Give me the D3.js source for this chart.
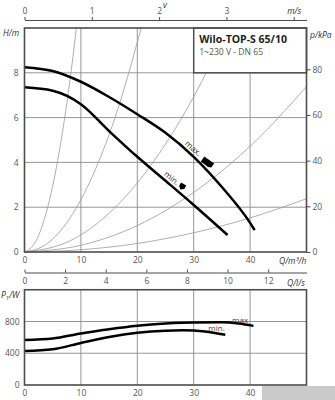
<!DOCTYPE html>
<html><head><meta charset="utf-8">
<script src="https://cdn.jsdelivr.net/npm/d3@7"></script>
<style>
html,body{margin:0;padding:0;background:#fff;}
svg{display:block;font-family:"Open Sans",sans-serif;}
</style></head><body>
<svg id="c" width="335" height="400"></svg>
<script>
// ---- tick values ----
const qTicks = [0,10,20,30,40];
const hTicks = [0,2,4,6,8];
const kpaTicks = [0,20,40,60,80];
const vTicks = [0,1,2,3,4];
const lsTicks = [0,2,4,6,8,10,12];
const pTicks = [0,400,800];
const gridQ = [10,20,30,40];
const gridH = [2,4,6,8];
const gridP = [400,800];

// ---- pump curves H(Q) ----
const maxQ = [0,5,10,15,20,25,30,35,40,40.8];
const maxH = [8.25,8.08,7.6,6.92,6.15,5.32,4.25,2.9,1.3,0.98];
const minQ = [0,5,10,15,20,25,30,36];
const minH = [7.35,7.2,6.6,5.4,4.25,3.18,2.1,0.76];

// ---- system curves (thin gray) ----
const sysAQ = [0,2,4,6,8,9.2];     const sysAH = [0,0.47,1.89,4.25,7.55,10];
const sysBQ = [0,4,8,12,16,20.7];  const sysBH = [0,0.37,1.49,3.36,5.96,10];
const sysCQ = [0,8,16,24,30,36];   const sysCH = [0,0.49,1.97,4.44,6.93,10];
const sysDQ = [0,10,20,30,40,50];  const sysDH = [0,0.3,1.18,2.66,4.72,7.38];
const sysEQ = [0,10,20,30,40,50];  const sysEH = [0,0.1,0.38,0.86,1.52,2.38];

// ---- power curves P1(Q) ----
const pMaxQ = [0,5,10,15,20,25,30,35,38,40.6];
const pMaxP = [567,585,650,703,747,775,788,789,775,745];
const pMinQ = [0,5,10,15,20,25,28,32,35.6];
const pMinP = [428,450,530,605,658,685,690,675,632];

// ---- annotation anchors (data units) ----
const maxLabelAt = [29.9,4.63];
const minLabelAt = [26.1,3.29];
const maxMarkAt = [32.45,4.0];
const minMarkAt = [27.96,2.92];
const pMaxLabelAt = [36.8,787];
const pMinLabelAt = [32.6,675];

const svg = d3.select('#c');
const FRAME = '#4d4d4d', GRID = '#8a8a8a', TXT = '#555', TTL = '#333';

const x = d3.scaleLinear().domain([0,50]).range([24.5,306.5]);
const yH = d3.scaleLinear().domain([0,10]).range([252,28]);
const yK = d3.scaleLinear().domain([0,10/0.10197]).range([252,28]);
const xV = d3.scaleLinear().domain([0,4.19]).range([24.5,306.5]);
const xL = d3.scaleLinear().domain([0,50/3.6]).range([24.5,306.5]);
const yP = d3.scaleLinear().domain([0,1200]).range([385,289.75]);

function styleAxis(g, keepDomain){
  g.attr('font-family','"Open Sans",sans-serif').attr('font-size',8.5);
  g.selectAll('text').attr('fill',TXT);
  g.selectAll('line').attr('stroke',FRAME).attr('stroke-width',1);
  if(!keepDomain) g.select('.domain').remove();
  else g.select('.domain').attr('stroke',FRAME).attr('stroke-width',1.2);
}

// ===== TOP CHART =====
const topG = svg.append('g');
topG.selectAll('.gv').data(gridQ).join('line')
  .attr('x1',d=>x(d)).attr('x2',d=>x(d)).attr('y1',yH(0)).attr('y2',yH(10))
  .attr('stroke',GRID).attr('stroke-width',0.9);
topG.selectAll('.gh').data(gridH).join('line')
  .attr('x1',x(0)).attr('x2',x(50)).attr('y1',d=>yH(d)).attr('y2',d=>yH(d))
  .attr('stroke',GRID).attr('stroke-width',0.9);

const lineH = d3.line().x(d=>x(d[0])).y(d=>yH(d[1])).curve(d3.curveMonotoneX);
const sys = [[sysAQ,sysAH],[sysBQ,sysBH],[sysCQ,sysCH],[sysDQ,sysDH],[sysEQ,sysEH]];
topG.selectAll('.sys').data(sys).join('path')
  .attr('d',d=>lineH(d3.zip(d[0],d[1])))
  .attr('fill','none').attr('stroke','#9a9a9a').attr('stroke-width',0.8);

topG.append('path').attr('d',lineH(d3.zip(maxQ,maxH)))
  .attr('fill','none').attr('stroke','#000').attr('stroke-width',2.5);
topG.append('path').attr('d',lineH(d3.zip(minQ,minH)))
  .attr('fill','none').attr('stroke','#000').attr('stroke-width',2.5);

// title box (Q 30..50, H 8..10)
topG.append('rect').attr('x',x(30)).attr('y',yH(10)).attr('width',x(50)-x(30)).attr('height',yH(8)-yH(10))
  .attr('fill','#fff').attr('stroke',FRAME).attr('stroke-width',1.5);
topG.append('text').attr('x',x(30)+5.5).attr('y',43).attr('font-size',10.5).attr('font-weight','bold')
  .attr('fill','#222').text('Wilo-TOP-S 65/10');
topG.append('text').attr('x',x(30)+5.5).attr('y',54.5).attr('font-size',8.6)
  .attr('fill','#555').text('1~230 V - DN 65');

// frame
topG.append('rect').attr('x',x(0)).attr('y',yH(10)).attr('width',x(50)-x(0)).attr('height',yH(0)-yH(10))
  .attr('fill','none').attr('stroke',FRAME).attr('stroke-width',1.6);

// annotations
function rotLabel(at, txt){
  topG.append('text').attr('transform',`translate(${x(at[0])},${yH(at[1])}) rotate(40)`)
    .attr('text-anchor','middle').attr('dy','0.35em').attr('font-size',8.2).attr('fill','#333').text(txt);
}
rotLabel(maxLabelAt,'max.');
rotLabel(minLabelAt,'min.');
topG.append('path').attr('transform',`translate(${x(maxMarkAt[0])},${yH(maxMarkAt[1])}) rotate(35)`)
  .attr('d','M-6,-3 L6,-3 L6,2 L3,3.5 L-6,3 Z').attr('fill','#000');
topG.append('path').attr('transform',`translate(${x(minMarkAt[0])},${yH(minMarkAt[1])}) rotate(30)`)
  .attr('d','M-3,-3 L3,-3 L3,1 L0,3.5 L-3,1 Z').attr('fill','#000');

// axes
topG.append('g').attr('transform',`translate(${x(0)},0)`)
  .call(d3.axisLeft(yH).tickValues(hTicks).tickSize(0).tickPadding(6)).call(g=>styleAxis(g,false));
topG.append('g').attr('transform',`translate(${x(50)},0)`)
  .call(d3.axisRight(yK).tickValues(kpaTicks).tickSizeInner(4).tickSizeOuter(0).tickPadding(2)).call(g=>styleAxis(g,false));
topG.append('g').attr('transform',`translate(0,${yH(0)})`)
  .call(d3.axisBottom(x).tickValues(qTicks).tickSize(0).tickPadding(5)).call(g=>styleAxis(g,false));
const vAx = topG.append('g').attr('transform','translate(0,20)')
  .call(d3.axisTop(xV).tickValues(vTicks).tickSizeInner(3).tickSizeOuter(0).tickPadding(3)
    .tickFormat(d=>d===4?'m/s':d)).call(g=>styleAxis(g,true));
vAx.selectAll('text').filter(d=>d===4).attr('font-style','italic').attr('fill',TTL);
topG.append('g').attr('transform','translate(0,272.5)')
  .call(d3.axisBottom(xL).tickValues(lsTicks).tickSizeInner(-3).tickSizeOuter(0).tickPadding(5)).call(g=>styleAxis(g,true));

// axis titles
function ttl(xp,yp,t,anchor){
  return svg.append('text').attr('x',xp).attr('y',yp).attr('font-size',8.5).attr('font-style','italic')
    .attr('fill',TTL).attr('text-anchor',anchor||'start').text(t);
}
ttl(3,36,'H/m');
ttl(310,38,'p/kPa');
ttl(165,7.5,'v','middle');
ttl(279,263.5,'Q/m³/h');
ttl(287,285.5,'Q/l/s');
const pt = ttl(1,298,'');
pt.append('tspan').text('P');
pt.append('tspan').attr('font-size',6).attr('dy',2).text('1');
pt.append('tspan').attr('dy',-2).text('/W');

// ===== LOWER CHART =====
const low = svg.append('g');
low.selectAll('.gv').data(gridQ).join('line')
  .attr('x1',d=>x(d)).attr('x2',d=>x(d)).attr('y1',yP(0)).attr('y2',yP(1200))
  .attr('stroke',GRID).attr('stroke-width',0.9);
low.selectAll('.gh').data(gridP).join('line')
  .attr('x1',x(0)).attr('x2',x(50)).attr('y1',d=>yP(d)).attr('y2',d=>yP(d))
  .attr('stroke',GRID).attr('stroke-width',0.9);
const lineP = d3.line().x(d=>x(d[0])).y(d=>yP(d[1])).curve(d3.curveMonotoneX);
low.append('path').attr('d',lineP(d3.zip(pMaxQ,pMaxP)))
  .attr('fill','none').attr('stroke','#000').attr('stroke-width',2.5);
low.append('path').attr('d',lineP(d3.zip(pMinQ,pMinP)))
  .attr('fill','none').attr('stroke','#000').attr('stroke-width',2.5);
low.append('rect').attr('x',x(0)).attr('y',yP(1200)).attr('width',x(50)-x(0)).attr('height',yP(0)-yP(1200))
  .attr('fill','none').attr('stroke',FRAME).attr('stroke-width',1.6);
low.append('text').attr('x',x(pMaxLabelAt[0])).attr('y',yP(pMaxLabelAt[1])).attr('font-size',8).attr('fill','#444').text('max');
low.append('text').attr('x',x(pMinLabelAt[0])).attr('y',yP(pMinLabelAt[1])).attr('font-size',8).attr('fill','#444').text('min.');
low.append('g').attr('transform',`translate(${x(0)},0)`)
  .call(d3.axisLeft(yP).tickValues(pTicks).tickSize(0).tickPadding(5)).call(g=>styleAxis(g,false));
low.append('g').attr('transform',`translate(0,${yP(0)})`)
  .call(d3.axisBottom(x).tickValues(qTicks).tickSize(0).tickPadding(5)).call(g=>styleAxis(g,false));

// watermark box
svg.append('rect').attr('x',262).attr('y',386).attr('width',73).attr('height',14).attr('fill','#cacaca');
</script>
</body></html>
